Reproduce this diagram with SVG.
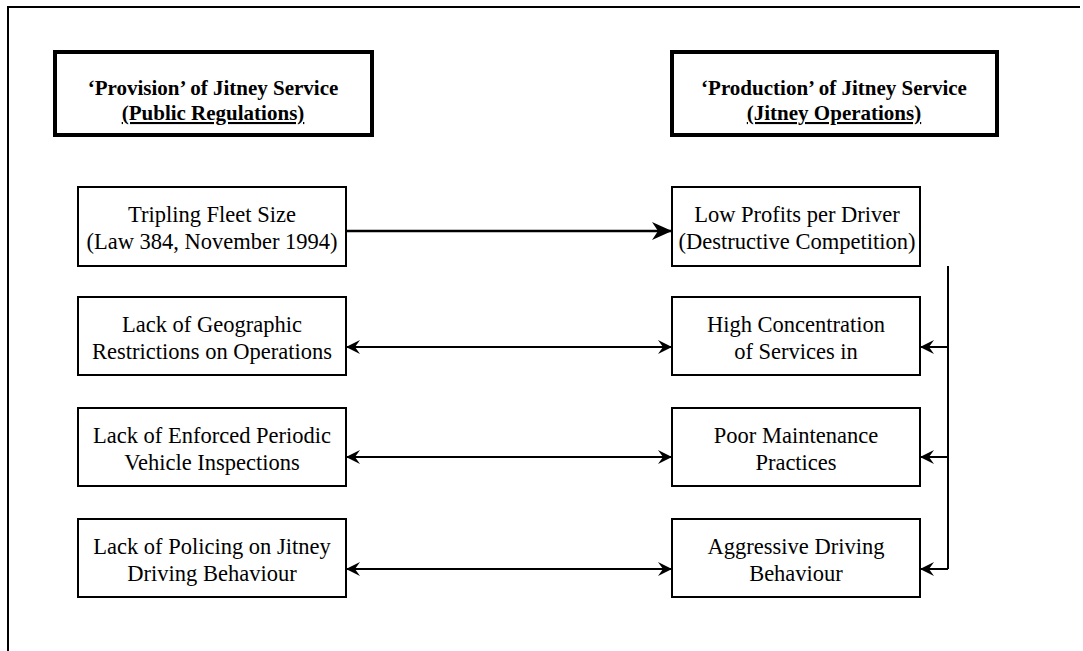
<svg xmlns="http://www.w3.org/2000/svg" width="1083" height="651" viewBox="0 0 1083 651">
<defs>
<style>
.box{fill:#fff;stroke:#000;stroke-width:2}
.hbox{fill:#fff;stroke:#000;stroke-width:4}
.t{font-family:'Liberation Serif','Times New Roman','DejaVu Serif',serif;font-size:22.5px;fill:#000;text-anchor:middle}
.h{font-family:'Liberation Serif','Times New Roman','DejaVu Serif',serif;font-size:21px;font-weight:bold;fill:#000;text-anchor:middle}
.u{text-decoration:underline}
.c{stroke:#000;stroke-width:2;fill:none}
</style>
<marker id="ah" viewBox="0 0 14 14" refX="13" refY="7" markerWidth="14" markerHeight="14" markerUnits="userSpaceOnUse" orient="auto-start-reverse">
<path d="M0,0 L14,7 L0,14 L5,7 Z" fill="#000"/>
</marker>
<marker id="ahb" viewBox="0 0 20 18" refX="19" refY="9" markerWidth="20" markerHeight="18" markerUnits="userSpaceOnUse" orient="auto">
<path d="M0,0 L20,9 L0,18 L6,9 Z" fill="#000"/>
</marker>
</defs>
<rect width="1083" height="651" fill="#fff"/>
<path d="M8,651 L8,7 L1080,7" fill="none" stroke="#000" stroke-width="2"/>

<g id="hdr-provision">
<rect class="hbox" x="55" y="52" width="317" height="83"/>
<text class="h" x="213" y="95">‘Provision’ of Jitney Service</text>
<text class="h u" x="213" y="120">(Public Regulations)</text>
</g>
<g id="hdr-production">
<rect class="hbox" x="672" y="52" width="325" height="83"/>
<text class="h" x="834" y="95">‘Production’ of Jitney Service</text>
<text class="h u" x="834" y="120">(Jitney Operations)</text>
</g>

<g id="n-fleet">
<rect class="box" x="78" y="187" width="268" height="79"/>
<text class="t" x="212" y="222">Tripling Fleet Size</text>
<text class="t" x="212" y="249">(Law 384, November 1994)</text>
</g>
<g id="n-geo">
<rect class="box" x="78" y="297" width="268" height="78"/>
<text class="t" x="212" y="332">Lack of Geographic</text>
<text class="t" x="212" y="359">Restrictions on Operations</text>
</g>
<g id="n-insp">
<rect class="box" x="78" y="408" width="268" height="78"/>
<text class="t" x="212" y="443">Lack of Enforced Periodic</text>
<text class="t" x="212" y="470">Vehicle Inspections</text>
</g>
<g id="n-police">
<rect class="box" x="78" y="519" width="268" height="78"/>
<text class="t" x="212" y="554">Lack of Policing on Jitney</text>
<text class="t" x="212" y="581">Driving Behaviour</text>
</g>

<g id="n-profits">
<rect class="box" x="672" y="187" width="248" height="79"/>
<text class="t" x="797" y="222">Low Profits per Driver</text>
<text class="t" x="797" y="249">(Destructive Competition)</text>
</g>
<g id="n-conc">
<rect class="box" x="672" y="297" width="248" height="78"/>
<text class="t" x="796" y="332">High Concentration</text>
<text class="t" x="796" y="359">of Services in</text>
</g>
<g id="n-maint">
<rect class="box" x="672" y="408" width="248" height="78"/>
<text class="t" x="796" y="443">Poor Maintenance</text>
<text class="t" x="796" y="470">Practices</text>
</g>
<g id="n-aggr">
<rect class="box" x="672" y="519" width="248" height="78"/>
<text class="t" x="796" y="554">Aggressive Driving</text>
<text class="t" x="796" y="581">Behaviour</text>
</g>

<g id="connectors">
<line x1="347" y1="231" x2="671" y2="231" stroke="#000" stroke-width="2.5" marker-end="url(#ahb)"/>
<line class="c" x1="347" y1="347" x2="671" y2="347" marker-start="url(#ah)" marker-end="url(#ah)"/>
<line class="c" x1="347" y1="457" x2="671" y2="457" marker-start="url(#ah)" marker-end="url(#ah)"/>
<line class="c" x1="347" y1="569" x2="671" y2="569" marker-start="url(#ah)" marker-end="url(#ah)"/>
<path class="c" d="M948,266 L948,569"/>
<line class="c" x1="948" y1="347" x2="921" y2="347" marker-end="url(#ah)"/>
<line class="c" x1="948" y1="457" x2="921" y2="457" marker-end="url(#ah)"/>
<line class="c" x1="948" y1="569" x2="921" y2="569" marker-end="url(#ah)"/>
</g>
</svg>
